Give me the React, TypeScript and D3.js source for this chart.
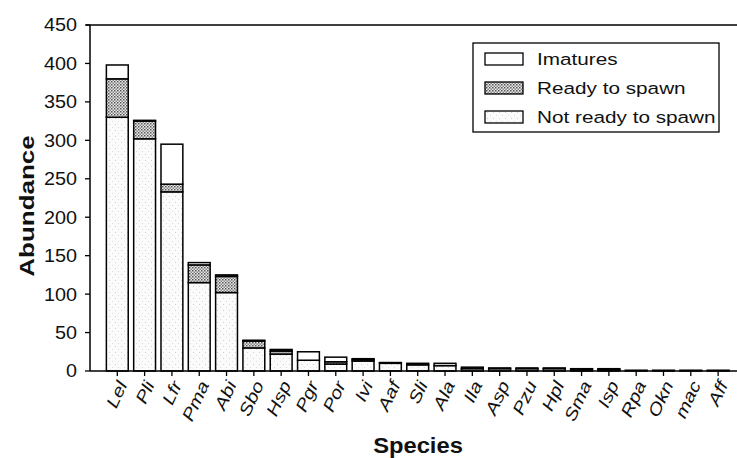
import React from "react";
import * as d3 from "d3";

const species = ["Lel","Pli","Lfr","Pma","Abi","Sbo","Hsp","Pgr","Por","Ivi","Aaf","Sli","Ala","Ila","Asp","Pzu","Hpl","Sma","Isp","Rpa","Okn","mac","Aff"];
const notReady = [330,302,233,115,102,30,22,14,9,13,10,8,7,3,3,3,3,2,2,1,1,1,1];
const ready    = [50,23,10,23,21,9,4,0,3,2,0,2,0,2,1,1,1,1,1,0,0,0,0];
const imatures = [18,1,52,3,2,1,2,11,6,1,1,0,3,0,0,0,0,0,0,0,0,0,0];
const yTicks = [0,50,100,150,200,250,300,350,400,450];
const seriesNames = ["Imatures","Ready to spawn","Not ready to spawn"];

const W = 737, H = 458;
const x0 = 90, yBase = 371, yTop = 25;

export default function App() {
  const step = 27.31;
  const firstCenter = 117.3;
  const x = d3.scaleBand<string>()
    .domain(species)
    .range([firstCenter - step / 2, firstCenter - step / 2 + step * species.length])
    .paddingInner(0.2)
    .paddingOuter(0.1);
  const y = d3.scaleLinear().domain([0, 450]).range([yBase, yTop]);

  const rows = species.map((s, i) => ({ s, notReady: notReady[i], ready: ready[i], imatures: imatures[i] }));
  const stack = d3.stack<any>().keys(["notReady", "ready", "imatures"]);
  const layers = stack(rows);
  const fills: Record<string, string> = {
    notReady: "url(#pNot)",
    ready: "url(#pReady)",
    imatures: "#ffffff",
  };
  const font = "'Liberation Sans', Arial, Helvetica, sans-serif";
  const bw = step * 0.8;

  return (
    <svg width={W} height={H} style={{ position: "absolute", left: 0, top: 0 }} fontFamily={font}>
      <defs>
        <pattern id="pReady" width="3" height="3" patternUnits="userSpaceOnUse">
          <rect width="3" height="3" fill="#e8e8e8" />
          <rect x="0" y="0" width="1.5" height="1.5" fill="#555" />
          <rect x="1.5" y="1.5" width="1.5" height="1.5" fill="#888" />
        </pattern>
        <pattern id="pNot" width="6" height="6" patternUnits="userSpaceOnUse">
          <rect width="6" height="6" fill="#fbfbfb" />
          <rect x="1" y="4" width="1" height="1" fill="#d0d0d0" />
          <rect x="4" y="1" width="1" height="1" fill="#dcdcdc" />
        </pattern>
      </defs>
      <rect width={W} height={H} fill="#fff" />
      {/* top frame line */}
      <line x1={x0 - 4} x2={W} y1={y(450)} y2={y(450)} stroke="#000" strokeWidth={1.3} />
      {/* bars */}
      {layers.map((layer) =>
        layer.map((d, i) => {
          const h = y(d[0]) - y(d[1]);
          if (h <= 0) return null;
          const cx = (x(species[i]) as number) + x.bandwidth() / 2;
          return (
            <rect key={layer.key + i} x={cx - bw / 2} y={y(d[1])} width={bw} height={h}
              fill={fills[layer.key]} stroke="#000" strokeWidth={1.5} />
          );
        })
      )}
      {/* y axis */}
      <line x1={x0} x2={x0} y1={y(450)} y2={yBase} stroke="#000" strokeWidth={1.5} />
      {yTicks.map((t) => (
        <g key={t}>
          <line x1={x0 - 5} x2={x0} y1={y(t)} y2={y(t)} stroke="#000" strokeWidth={1.3} />
          <text transform={`translate(77,${y(t)}) scale(1.1,1)`} dy="0.36em" textAnchor="end"
            fontSize={18} fill="#111">{t}</text>
        </g>
      ))}
      {/* x axis */}
      <line x1={x0} x2={W} y1={yBase} y2={yBase} stroke="#000" strokeWidth={1.5} />
      {species.map((s) => {
        const cx = (x(s) as number) + x.bandwidth() / 2;
        return (
          <g key={s}>
            <line x1={cx} x2={cx} y1={yBase} y2={yBase + 5} stroke="#000" strokeWidth={1.3} />
            <text transform={`translate(${cx + 5},${yBase + 11}) rotate(-65) scale(1.2,1)`} textAnchor="end"
              dy="0.35em" fontSize={17} fontStyle="italic" fill="#111">{s}</text>
          </g>
        );
      })}
      {/* axis titles */}
      <text transform={`translate(34,${(yBase + yTop) / 2 + 8}) rotate(-90) scale(1.3,1)`} textAnchor="middle"
        fontSize={20} fontWeight="bold" fill="#111">Abundance</text>
      <text transform={`translate(418,453) scale(1.08,1)`} textAnchor="middle" fontSize={22}
        fontWeight="bold" fill="#111">Species</text>
      {/* legend */}
      <rect x={473} y={43} width={246} height={89} fill="#fff" stroke="#000" strokeWidth={1.3} />
      {seriesNames.map((n, i) => {
        const cy = 59 + i * 29;
        const f = i === 0 ? "#ffffff" : i === 1 ? "url(#pReady)" : "url(#pNot)";
        return (
          <g key={n}>
            <rect x={485} y={cy - 6} width={38} height={12} fill={f} stroke="#000" strokeWidth={1.3} />
            <text transform={`translate(537,${cy}) scale(1.22,1)`} dy="0.36em" fontSize={17} fill="#111">{n}</text>
          </g>
        );
      })}
    </svg>
  );
}
